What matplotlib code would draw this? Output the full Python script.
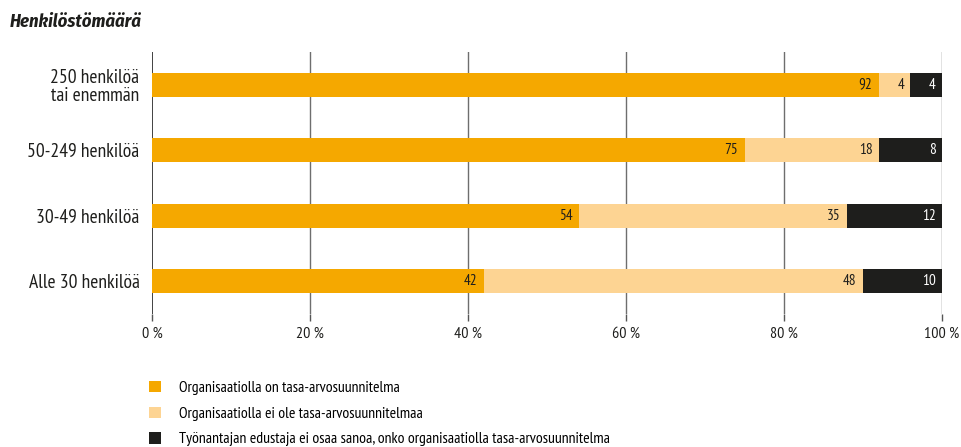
import matplotlib
matplotlib.use("Agg")
import matplotlib.pyplot as plt
from matplotlib.patches import Patch
import numpy as np

plt.rcParams['font.family'] = ['PT Sans Narrow', 'Roboto Condensed', 'DejaVu Sans']

categories = ["250 henkilöä\ntai enemmän", "50-249 henkilöä", "30-49 henkilöä", "Alle 30 henkilöä"]
has_plan = [92, 75, 54, 42]
no_plan = [4, 18, 35, 48]
dont_know = [4, 8, 12, 10]
series_names = ["Organisaatiolla on tasa-arvosuunnitelma",
                "Organisaatiolla ei ole tasa-arvosuunnitelmaa",
                "Työnantajan edustaja ei osaa sanoa, onko organisaatiolla tasa-arvosuunnitelma"]
colors = ["#F5A800", "#FDD493", "#1E1E1C"]
text_colors = ["#1E1E1C", "#1E1E1C", "white"]
xticks = [0, 20, 40, 60, 80, 100]
xtick_labels = ["0 %", "20 %", "40 %", "60 %", "80 %", "100 %"]

fig = plt.figure(figsize=(9.62, 4.47), dpi=100)
ax = fig.add_axes([152/962, 1-314/447, 790/962, 262/447])

y = np.arange(len(categories))
h = np.array(has_plan, dtype=float)
n = np.array(no_plan, dtype=float)
d = np.array(dont_know, dtype=float)
bh = 0.36
pad = 0.8
# orange from the left, dark anchored at 100 %, light in between
ax.barh(y, h, left=0, height=bh, color=colors[0], zorder=3)
ax.barh(y, n, left=h, height=bh, color=colors[1], zorder=3)
ax.barh(y, d, left=100 - d, height=bh, color=colors[2], zorder=4)
for yi, hv, nv, dv in zip(y, h, n, d):
    ax.text(hv - pad, yi, f"{int(hv)}", ha='right', va='center', fontsize=11, color=text_colors[0], zorder=5)
    ax.text(min(hv + nv, 100 - dv) - pad, yi, f"{int(nv)}", ha='right', va='center', fontsize=11, color=text_colors[1], zorder=5)
    ax.text(100 - pad, yi, f"{int(dv)}", ha='right', va='center', fontsize=11, color=text_colors[2], zorder=5)

ax.set_xlim(0, 100)
ax.set_ylim(3.5, -0.5)
ax.set_yticks(y)
ax.set_yticklabels(categories, fontsize=14, color="#1E1E1C", linespacing=1.0)
ax.set_xticks(xticks)
ax.set_xticklabels(xtick_labels, fontsize=11.5, color="#1E1E1C")
ax.tick_params(axis='y', length=0, pad=9)
ax.tick_params(axis='x', length=5, width=1, color="#555555", pad=4)
for s in ax.spines.values():
    s.set_visible(False)
for xv in xticks:
    ax.axvline(xv, color="#333333" if xv == 0 else "#6e6e6e", lw=1.3 if xv == 0 else 1.0, zorder=1)

fig.text(10/962, 1-22/447, "Henkilöstömäärä", fontsize=13.3, fontweight='bold',
         fontstyle='italic', ha='left', va='center', color="#1E1E1C",
         family=['Fira Sans Condensed', 'PT Sans Narrow', 'DejaVu Sans'])

handles = [Patch(facecolor=c, edgecolor='none') for c in colors]
fig.legend(handles, series_names, loc='upper left', bbox_to_anchor=(149/962, 1-381/447),
           frameon=False, fontsize=11.3, handlelength=0.75, handleheight=0.75,
           handletextpad=1.15, labelspacing=0.72, borderpad=0, borderaxespad=0)

fig.savefig("out.png", dpi=100)
